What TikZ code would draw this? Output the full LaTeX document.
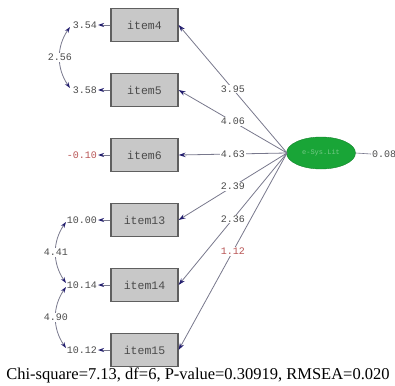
\documentclass[tikz,border=0pt]{standalone}
\usepackage{fontspec}
\setmainfont{Liberation Serif}
\newfontfamily\lismono{Liberation Mono}
\usetikzlibrary{shapes.geometric,arrows.meta}
\definecolor{boxfill}{RGB}{200,200,200}
\definecolor{boxline}{RGB}{95,95,95}
\definecolor{tipnavy}{RGB}{35,30,110}
\definecolor{linegray}{RGB}{120,120,140}
\definecolor{txtgray}{RGB}{75,75,75}
\definecolor{txtred}{RGB}{185,85,85}
\definecolor{ellgreen}{RGB}{25,165,55}
\begin{document}
\begin{tikzpicture}[x=1pt,y=-1pt,
  itembox/.style={draw=boxline,line width=1.2pt,fill=boxfill,minimum width=67pt,minimum height=33pt,inner sep=0pt,font=\lismono\fontsize{11.5}{12}\selectfont,text=txtgray},
  numlab/.style={font=\lismono\fontsize{10}{10}\selectfont,text=txtgray,inner sep=1pt,fill=white},
  redlab/.style={numlab,text=txtred},
  path/.style={draw=linegray,line width=0.8pt,-{Stealth[length=7pt,width=4.5pt,color=tipnavy]}},
  errarrow/.style={draw=linegray,line width=0.8pt,-{Stealth[length=6pt,width=4pt,color=tipnavy]}},
  covarrow/.style={draw=linegray,line width=0.8pt,{Stealth[length=6pt,width=4pt,color=tipnavy]}-{Stealth[length=6pt,width=4pt,color=tipnavy]}}
]
\useasboundingbox (0,0) rectangle (395,385);
% latent
\node[ellipse,fill=ellgreen,draw=ellgreen!80!black,minimum width=69pt,minimum height=32pt,inner sep=0pt,font=\lismono\fontsize{7}{8}\selectfont,text=ellgreen!60!white] (lat) at (321,153) {e-Sys.Lit};
\coordinate (latw) at (287,153);
\node[numlab,anchor=west] (lv) at (371,154) {0.08};
\draw[linegray,line width=0.6pt] (lat.east) -- (lv.west);
% items
\node[itembox] (i4) at (144.5,25) {item4};
\node[itembox] (i5) at (144.5,90) {item5};
\node[itembox] (i6) at (144.5,155) {item6};
\node[itembox] (i13) at (144.5,220) {item13};
\node[itembox] (i14) at (144.5,285) {item14};
\node[itembox] (i15) at (144.5,350) {item15};
% loadings
\draw[path] (latw) -- node[numlab,pos=0.5]{3.95} (i4.east);
\draw[path] (latw) -- node[numlab,pos=0.5]{4.06} (i5.east);
\draw[path] (latw) -- node[numlab,pos=0.5]{4.63} (i6.east);
\draw[path] (latw) -- node[numlab,pos=0.5]{2.39} (i13.east);
\draw[path] (latw) -- node[numlab,pos=0.5]{2.36} (i14.east);
\draw[path] (latw) -- node[redlab,pos=0.5]{1.12} (i15.east);
% error variances
\node[numlab,anchor=east] (e4) at (98,25) {3.54};
\node[numlab,anchor=east] (e5) at (98,90) {3.58};
\node[redlab,anchor=east] (e6) at (98,155) {-0.10};
\node[numlab,anchor=east] (e13) at (98,220) {10.00};
\node[numlab,anchor=east] (e14) at (98,285) {10.14};
\node[numlab,anchor=east] (e15) at (98,350) {10.12};
\foreach \n in {4,5,6,13,14,15}{\draw[errarrow] (i\n.west) -- (e\n.east);}
% covariances
\coordinate (c4) at (70,27);
\coordinate (c5) at (70,88);
\coordinate (c13) at (66,222);
\coordinate (c14a) at (66,283);
\coordinate (c14b) at (66,287);
\coordinate (c15) at (66,348);
\draw[covarrow] (c4) to[out=235,in=125] node[numlab,pos=0.5]{2.56} (c5);
\draw[covarrow] (c13) to[out=235,in=125] node[numlab,pos=0.5]{4.41} (c14a);
\draw[covarrow] (c14b) to[out=235,in=125] node[numlab,pos=0.5]{4.90} (c15);
% caption
\node[font=\fontsize{16.5}{18}\selectfont,text=black,inner sep=0pt] (cap) at (198,375) {Chi-square=7.13, df=6, P-value=0.30919, RMSEA=0.020};
\end{tikzpicture}
\end{document}
